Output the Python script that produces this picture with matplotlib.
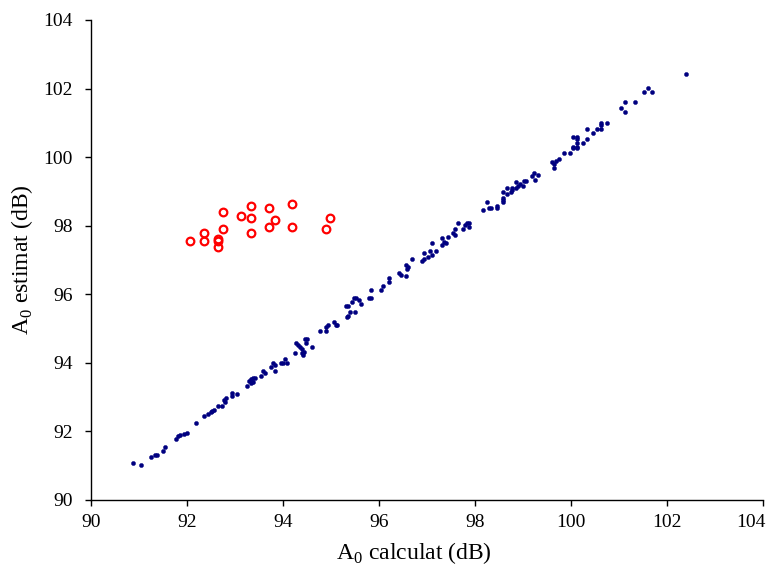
import matplotlib
matplotlib.use("Agg")
import matplotlib.pyplot as plt
import matplotlib.transforms as mtransforms

# A0 calculat (x) vs A0 estimat (y), dB
blue_x = [90.88, 91.04, 91.25, 91.33, 91.38, 91.49, 91.54, 91.78, 91.82, 91.85,
          91.94, 91.99, 92.19, 92.35, 92.44, 92.49, 92.53, 92.56, 92.64, 92.72,
          92.78, 92.79, 92.81, 92.93, 92.93, 93.05, 93.26, 93.30, 93.34, 93.38,
          93.42, 93.34, 93.38, 93.54, 93.59, 93.63, 93.76, 93.79, 93.83, 93.83,
          93.95, 93.99, 94.04, 94.08, 94.24, 94.28, 94.32, 94.36, 94.40, 94.40,
          94.42, 94.44, 94.48, 94.45, 94.49, 94.61, 94.77, 94.90, 94.90, 94.94,
          95.06, 95.10, 95.13, 95.33, 95.36, 95.39, 95.51, 95.31, 95.35, 95.43,
          95.48, 95.52, 95.59, 95.63, 95.80, 95.84, 95.83, 96.04, 96.08, 96.20,
          96.20, 96.42, 96.45, 96.57, 96.57, 96.61, 96.58, 96.69, 96.90, 96.94,
          97.02, 97.06, 97.10, 97.19, 96.94, 97.10, 97.31, 97.35, 97.40, 97.31,
          97.44, 97.55, 97.59, 97.59, 97.64, 97.76, 97.80, 97.84, 97.88, 97.88,
          98.17, 98.25, 98.29, 98.33, 98.46, 98.46, 98.58, 98.58, 98.58, 98.58,
          98.66, 98.66, 98.74, 98.78, 98.78, 98.86, 98.86, 98.90, 98.94, 98.99,
          99.03, 99.07, 99.19, 99.23, 99.24, 99.31, 99.60, 99.65, 99.69, 99.65,
          99.74, 99.85, 99.98, 100.05, 100.05, 100.13, 100.13, 100.13, 100.05, 100.13,
          100.13, 100.26, 100.34, 100.34, 100.46, 100.55, 100.63, 100.63, 100.63, 100.75,
          101.04, 101.12, 101.12, 101.33, 101.53, 101.61, 101.69, 102.39]
blue_y = [91.09, 91.03, 91.26, 91.32, 91.32, 91.43, 91.55, 91.78, 91.86, 91.90,
          91.93, 91.95, 92.24, 92.46, 92.52, 92.56, 92.60, 92.63, 92.75, 92.75,
          92.93, 92.87, 92.97, 93.02, 93.11, 93.08, 93.33, 93.47, 93.54, 93.56,
          93.56, 93.42, 93.44, 93.61, 93.77, 93.70, 93.89, 94.00, 93.94, 93.77,
          94.00, 94.00, 94.12, 94.00, 94.30, 94.58, 94.52, 94.46, 94.40, 94.29,
          94.24, 94.33, 94.57, 94.69, 94.69, 94.46, 94.92, 94.92, 95.04, 95.10,
          95.20, 95.11, 95.10, 95.33, 95.37, 95.49, 95.49, 95.67, 95.67, 95.78,
          95.89, 95.89, 95.83, 95.72, 95.89, 95.89, 96.13, 96.13, 96.23, 96.35,
          96.47, 96.63, 96.57, 96.52, 96.86, 96.80, 96.75, 97.03, 96.98, 97.04,
          97.10, 97.26, 97.15, 97.26, 97.20, 97.49, 97.45, 97.53, 97.49, 97.63,
          97.67, 97.79, 97.90, 97.73, 98.08, 97.90, 98.02, 98.08, 98.08, 97.96,
          98.47, 98.69, 98.53, 98.53, 98.58, 98.53, 98.81, 98.75, 98.69, 98.98,
          99.10, 98.92, 98.98, 99.04, 99.10, 99.10, 99.27, 99.16, 99.22, 99.16,
          99.31, 99.31, 99.44, 99.55, 99.33, 99.49, 99.85, 99.80, 99.88, 99.68,
          99.95, 100.13, 100.13, 100.26, 100.30, 100.26, 100.30, 100.42, 100.59, 100.59,
          100.53, 100.42, 100.53, 100.81, 100.70, 100.81, 100.81, 100.93, 100.99, 100.99,
          101.44, 101.61, 101.33, 101.61, 101.90, 102.02, 101.90, 102.42]

red_x = [92.06, 92.35, 92.35, 92.64, 92.64, 92.64, 92.76, 92.76, 93.13, 93.33,
         93.33, 93.33, 93.70, 93.70, 93.83, 94.19, 94.19, 94.89, 94.98]
red_y = [97.56, 97.56, 97.79, 97.62, 97.56, 97.38, 98.41, 97.90, 98.29, 98.58,
         98.23, 97.79, 98.53, 97.95, 98.18, 98.64, 97.95, 97.90, 98.23]

ticks = [90, 92, 94, 96, 98, 100, 102, 104]

plt.rcParams['font.family'] = ['Liberation Serif', 'DejaVu Serif']
plt.rcParams['mathtext.fontset'] = 'custom'
plt.rcParams['mathtext.rm'] = 'Liberation Serif'

fig = plt.figure(figsize=(7.66, 5.75), dpi=100)
ax = fig.add_axes([91/766, 75/575, 672/766, 480/575])

ax.plot(blue_x, blue_y, linestyle='none', marker='o', markersize=3.0,
        markerfacecolor='#000080', markeredgecolor='#000080', markeredgewidth=0.3)
ax.plot(red_x, red_y, linestyle='none', marker='o', markersize=5.5,
        markerfacecolor='none', markeredgecolor='#ff0000', markeredgewidth=1.6)

ax.set_xlim(90, 104)
ax.set_ylim(90, 104)
ax.set_xticks(ticks)
ax.set_yticks(ticks)
ax.tick_params(direction='out', length=4, width=1, labelsize=14)
ax.tick_params(axis='y', pad=9)
ax.tick_params(axis='x', pad=6)
for s in ['top', 'right']:
    ax.spines[s].set_visible(False)
for s in ['left', 'bottom']:
    ax.spines[s].set_linewidth(1)

# keep the last x tick label inside the figure (as in the reference)
last = ax.get_xticklabels()[-1]
last.set_horizontalalignment('right')
last.set_transform(last.get_transform() +
                   mtransforms.ScaledTranslation(3/100, 0, fig.dpi_scale_trans))

ax.set_xlabel(r'A$_\mathrm{0}$ calculat (dB)', fontsize=17)
ax.xaxis.set_label_coords(0.48, -0.083)
ax.set_ylabel(r'A$_\mathrm{0}$ estimat (dB)', fontsize=17)
ax.yaxis.set_label_coords(-0.084, 0.5)

fig.savefig('out.png', dpi=100)
